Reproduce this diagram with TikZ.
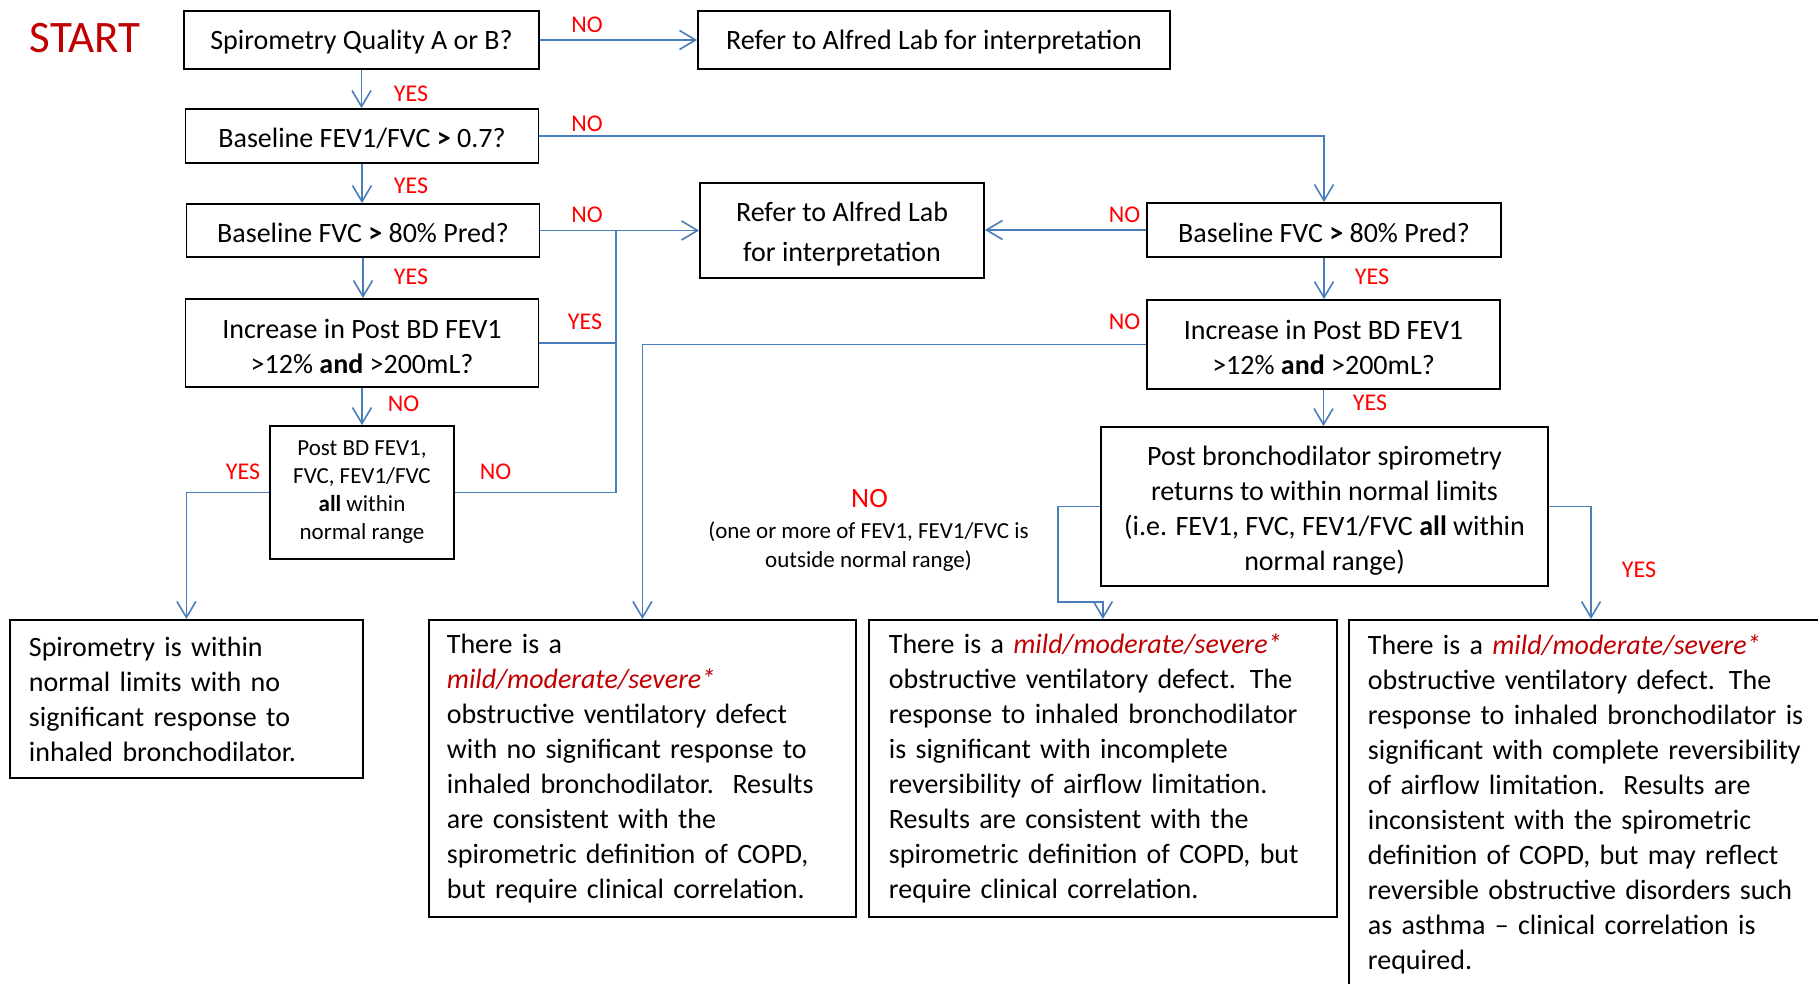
\documentclass[tikz,border=0pt]{standalone}
\usepackage{fontspec}
\setmainfont{Carlito}
\usetikzlibrary{arrows.meta}
\definecolor{lineblue}{HTML}{4A7EBB}
\definecolor{darkred}{HTML}{C00000}
\newcommand{\myup}[1]{\rule{0pt}{#1}}
\tikzset{
  box/.style={draw=black, line width=1.8pt, fill=white, inner sep=0pt, align=center,
    font=\fontsize{28}{35}\selectfont},
  outbox/.style={draw=black, line width=1.8pt, fill=white, inner ysep=0pt, align=left,
    anchor=north west, font=\fontsize{28}{35}\selectfont},
  conn/.style={draw=lineblue, line width=1.6pt},
  arr/.style={conn, -{Straight Barb[length=16pt,width=19pt]}},
  lbl/.style={text=red, inner sep=0pt, font=\fontsize{24}{29}\selectfont},
}
\begin{document}
\begin{tikzpicture}[x=1pt,y=-1pt]
\fill[white] (0,0) rectangle (1818,984);
\useasboundingbox (0,0) rectangle (1818,984);

\node[text=darkred, inner sep=0pt, font=\fontsize{45}{50}\selectfont] (start) at (85,38) {START};

% left column
\node[box, minimum width=355pt, minimum height=58pt] (q1) at (361.5,40) {\myup{24.5pt}Spirometry Quality A or B?};
\node[box, minimum width=472pt, minimum height=58pt] (ref1) at (934,40) {\myup{24.5pt}Refer to Alfred Lab for interpretation};
\node[box, minimum width=353pt, minimum height=54pt] (b2) at (362,136) {\myup{24.5pt}Baseline FEV1/FVC \textbf{>} 0.7?};
\node[box, minimum width=353pt, minimum height=53pt] (b3) at (363,230.5) {\myup{24.5pt}Baseline FVC \textbf{>} 80\% Pred?};
\node[box, minimum width=353pt, minimum height=88pt] (b4) at (362,343) {\myup{25.5pt}Increase in Post BD FEV1\\>12\% \textbf{and} >200mL?};
\node[box, minimum width=184pt, minimum height=133pt, font=\fontsize{23}{28}\selectfont] (b5) at (362,492.5)
  {Post BD FEV1,\\FVC, FEV1/FVC\\\textbf{all} within\\normal range};
\node[box, minimum width=284pt, minimum height=95pt, font=\fontsize{28}{40}\selectfont] (ref2) at (842,230.5)
  {\myup{27.5pt}Refer to Alfred Lab\\for interpretation};

% right column
\node[box, minimum width=354pt, minimum height=54pt] (r1) at (1324,230) {\myup{24.5pt}Baseline FVC \textbf{>} 80\% Pred?};
\node[box, minimum width=353pt, minimum height=89pt] (r2) at (1323.5,344.5) {\myup{25.5pt}Increase in Post BD FEV1\\>12\% \textbf{and} >200mL?};
\node[box, minimum width=447pt, minimum height=159pt] (r3) at (1324.5,506.5)
  {\myup{27pt}Post bronchodilator spirometry\\returns to within normal limits\\(i.e. FEV1, FVC, FEV1/FVC \textbf{all} within\\normal range)};

% outcome boxes
\node[outbox, inner xsep=19pt, text width=315pt, minimum height=158pt] (o1) at (9,619)
  {Spirometry is within\\normal limits with no\\significant response to\\inhaled bronchodilator.};
\node[outbox, inner xsep=18pt, text width=391pt, minimum height=297pt] (o2) at (428,619)
  {There is a\\\textcolor{darkred}{\textit{mild/moderate/severe*}}\\obstructive ventilatory defect\\with no significant response to\\inhaled bronchodilator.\ \ Results\\are consistent with the\\spirometric definition of COPD,\\but require clinical correlation.};
\node[outbox, inner xsep=20pt, text width=428pt, minimum height=297pt] (o3) at (868,619)
  {There is a \textcolor{darkred}{\textit{mild/moderate/severe*}}\\obstructive ventilatory defect. The\\response to inhaled bronchodilator\\is significant with incomplete\\reversibility of airflow limitation.\\Results are consistent with the\\spirometric definition of COPD, but\\require clinical correlation.};
\node[outbox, inner xsep=19pt, text width=462pt, minimum height=369pt] (o4) at (1348,619)
  {There is a \textcolor{darkred}{\textit{mild/moderate/severe*}}\\obstructive ventilatory defect. The\\response to inhaled bronchodilator is\\significant with complete reversibility\\of airflow limitation.\ \ Results are\\inconsistent with the spirometric\\definition of COPD, but may reflect\\reversible obstructive disorders such\\as asthma – clinical correlation is\\required.};

% middle note
\node[text=red, inner sep=0pt, font=\fontsize{28}{30}\selectfont] (nomid) at (869.5,499) {NO};
\node[inner sep=0pt, align=center, font=\fontsize{23}{29}\selectfont] (note) at (868.5,547)
  {(one or more of FEV1, FEV1/FVC is\\outside normal range)};

% connectors
\coordinate (j1) at (616,230.5);
\coordinate (k1) at (1058,602);
\coordinate (k2) at (1591,619);
\draw[arr] (q1.east) -- (ref1.west);
\draw[arr] (q1.south) -- (q1.south |- b2.north);
\draw[arr] (b2.east) -| (r1.north);
\draw[arr] (b2.south) -- (b2.south |- b3.north);
\draw[arr] (b3.east) -- (ref2.west);
\draw[arr] (b3.south) -- (b3.south |- b4.north);
\draw[conn] (b4.east) -| (j1);
\draw[conn] (b5.east) -| (j1);
\draw[arr] (b4.south) -- (b5.north);
\draw[arr] (b5.west) -| (o1.north);
\draw[arr] (r1.west) -- (r1.west -| ref2.east);
\draw[arr] (r1.south) -- (r1.south |- r2.north);
\draw[arr] (r2.west) -| (o2.north);
\draw[arr] (r2.south) -- (r2.south |- r3.north);
\draw[arr] (r3.west) -| (k1) -| (o3.north);
\draw[arr] (r3.east) -| (k2);

% labels
\node[lbl] (l1) at (587,25) {NO};
\node[lbl] (l2) at (411,93.5) {YES};
\node[lbl] (l3) at (587,123.5) {NO};
\node[lbl] (l4) at (411,185.5) {YES};
\node[lbl] (l5) at (587,215) {NO};
\node[lbl] (l6) at (411,277) {YES};
\node[lbl] (l7) at (585,321.5) {YES};
\node[lbl] (l8) at (403.5,403.5) {NO};
\node[lbl] (l9) at (495.5,471.5) {NO};
\node[lbl] (l10) at (243,472) {YES};
\node[lbl] (l11) at (1124.5,215) {NO};
\node[lbl] (l12) at (1372,276.5) {YES};
\node[lbl] (l13) at (1124.5,321.5) {NO};
\node[lbl] (l14) at (1370,402.5) {YES};
\node[lbl] (l15) at (1639,569.5) {YES};
\end{tikzpicture}
\end{document}
